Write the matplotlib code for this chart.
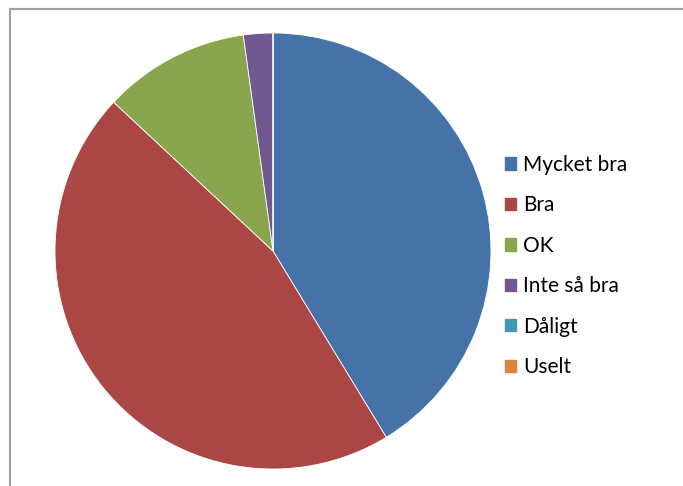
import matplotlib.pyplot as plt
from matplotlib.lines import Line2D

labels = ['Mycket bra', 'Bra', 'OK', 'Inte så bra', 'Dåligt', 'Uselt']
values = [19, 21, 5, 1, 0, 0]
colors = ['#4572A7', '#AA4643', '#89A54E', '#71588F', '#4198AF', '#DB843D']

plt.rcParams['font.family'] = ['Lato', 'DejaVu Sans']

fig = plt.figure(figsize=(6.83, 4.86), dpi=100)
ax = fig.add_axes([55 / 683, (486 - 469) / 486, 436 / 683, 436 / 486])

wedges, _ = ax.pie(values, colors=colors, startangle=90, counterclock=False,
                   wedgeprops=dict(edgecolor='white', linewidth=0.6))
ax.set_xlim(-1, 1)
ax.set_ylim(-1, 1)
ax.set_aspect('equal')

# chart frame, cut off at right and bottom
fig.add_artist(Line2D([10 / 683, 10 / 683], [0, 1 - 9 / 486], color='#a0a0a0', lw=1.5))
fig.add_artist(Line2D([10 / 683, 1], [1 - 9 / 486, 1 - 9 / 486], color='#a0a0a0', lw=1.5))

handles = [plt.Rectangle((0, 0), 1, 1, color=c) for c in colors]
fig.legend(handles, labels, loc='upper left', bbox_to_anchor=(505 / 683, 1 - 155 / 486),
           frameon=False, fontsize=15, handlelength=0.53, handleheight=0.53,
           handletextpad=0.33, labelspacing=0.98, borderaxespad=0, borderpad=0)

fig.savefig('out.png', dpi=100)
